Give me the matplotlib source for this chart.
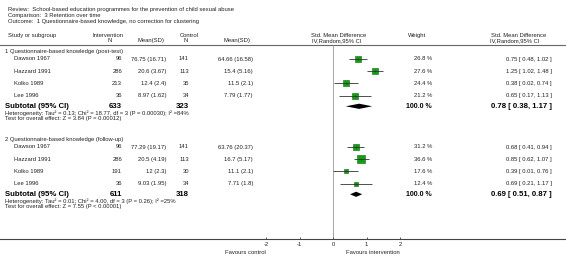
import numpy as np
import matplotlib
matplotlib.use("Agg")
import matplotlib.pyplot as plt

plt.rcParams['font.family'] = ['Liberation Sans', 'DejaVu Sans']

# ---- data
review = "Review:  School-based education programmes for the prevention of child sexual abuse"
comparison = "Comparison:  3 Retention over time"
outcome = "Outcome:  1 Questionnaire-based knowledge, no correction for clustering"

groups = ["1 Questionnaire-based knowledge (post-test)",
          "2 Questionnaire-based knowledge (follow-up)"]
studies = ["Dawson 1967", "Hazzard 1991", "Kolko 1989", "Lee 1996"]

int_n = [[96, 286, 213, 36], [96, 286, 191, 36]]
int_mean = [["76.75 (16.71)", "20.6 (3.67)", "12.4 (2.4)", "8.97 (1.62)"],
            ["77.29 (19.17)", "20.5 (4.19)", "12 (2.3)", "9.03 (1.95)"]]
ctl_n = [[141, 113, 35, 34], [141, 113, 30, 34]]
ctl_mean = [["64.66 (16.58)", "15.4 (5.16)", "11.5 (2.1)", "7.79 (1.77)"],
            ["63.76 (20.37)", "16.7 (5.17)", "11.1 (2.1)", "7.71 (1.8)"]]
weights = [[26.8, 27.6, 24.4, 21.2], [31.2, 36.6, 17.6, 12.4]]
smd = [[0.75, 1.25, 0.38, 0.65], [0.68, 0.85, 0.39, 0.69]]
lo = [[0.48, 1.02, 0.02, 0.17], [0.41, 0.62, 0.01, 0.21]]
hi = [[1.02, 1.48, 0.74, 1.13], [0.94, 1.07, 0.76, 1.17]]

sub_int_n = [633, 611]
sub_ctl_n = [323, 318]
sub_smd = [0.78, 0.69]
sub_lo = [0.38, 0.51]
sub_hi = [1.17, 0.87]
heterogeneity = ["Heterogeneity: Tau\u00b2 = 0.13; Chi\u00b2 = 18.77, df = 3 (P = 0.00030); I\u00b2 =84%",
                 "Heterogeneity: Tau\u00b2 = 0.01; Chi\u00b2 = 4.00, df = 3 (P = 0.26); I\u00b2 =25%"]
overall = ["Test for overall effect: Z = 3.84 (P = 0.00012)",
           "Test for overall effect: Z = 7.55 (P < 0.00001)"]

xticks = [-2, -1, 0, 1, 2]

# ---- layout (pixel rows / columns)
W, H = 566, 269
x_zero, px_unit = 333, 33.5
group_top = [52, 140]
row_step = 12.2
y_axis = 239

fig = plt.figure(figsize=(W / 100, H / 100), dpi=100)
tab = fig.add_axes([0, 0, 1, 1])
tab.set_xlim(0, W)
tab.set_ylim(H, 0)
tab.axis('off')

ax = fig.add_axes([0, 0, 1, 1])
ax.set_xlim(-x_zero / px_unit, (W - x_zero) / px_unit)
ax.set_ylim(H, 0)
ax.axis('off')
ax.patch.set_alpha(0)

fs = 4.2
tc = '#222222'

def t(x, y, s, ha='left', size=fs, weight='normal', color=tc):
    tab.text(x, y, s, ha=ha, va='center', fontsize=size, fontweight=weight, color=color)

t(8, 10, review)
t(8, 16, comparison)
t(8, 22, outcome)

# header
t(8, 35.5, "Study or subgroup")
t(108, 35.5, "Intervention", ha='center')
t(110, 40.5, "N", ha='center')
t(151, 40.5, "Mean(SD)", ha='center')
t(189, 35.5, "Control", ha='center')
t(186, 40.5, "N", ha='center')
t(237, 40.5, "Mean(SD)", ha='center')
t(339, 35.5, "Std. Mean Difference", ha='center')
t(337, 40.5, "IV,Random,95% CI", ha='center')
t(417, 35.5, "Weight", ha='center')
t(519, 35.5, "Std. Mean Difference", ha='center')
t(515, 40.5, "IV,Random,95% CI", ha='center')
tab.axhline(44.5, color='#666666', lw=0.8)

for g in range(2):
    y0 = group_top[g]
    t(5, y0, groups[g])
    for i, name in enumerate(studies):
        y = y0 + 7 + i * row_step
        w = weights[g][i]
        t(14, y, name)
        t(122, y, str(int_n[g][i]), ha='right')
        t(166, y, int_mean[g][i], ha='right')
        t(189, y, str(ctl_n[g][i]), ha='right')
        t(253, y, ctl_mean[g][i], ha='right')
        t(432, y, f"{w:.1f} %", ha='right')
        t(552, y, f"{smd[g][i]:.2f} [ {lo[g][i]:.2f}, {hi[g][i]:.2f} ]", ha='right')
        ax.hlines(y, lo[g][i], hi[g][i], color='#333333', lw=0.6, zorder=4)
        # square side grows with the study weight
        ax.plot(smd[g][i], y, marker='s', ms=0.72 * (0.9 + 0.194 * w),
                mfc='#12a012', mec='#0a6a0a', mew=0.4, zorder=3)
        ax.plot(smd[g][i], y, marker='|', ms=2.0, mec='#333333', mew=0.5, zorder=5)
    ys = y0 + 7 + 4 * row_step - 1.5
    t(5, ys, "Subtotal (95% CI)", size=5.6, weight='bold', color='black')
    t(122, ys, str(sub_int_n[g]), ha='right', size=5.6, weight='bold', color='black')
    t(189, ys, str(sub_ctl_n[g]), ha='right', size=5.6, weight='bold', color='black')
    t(432, ys, "100.0 %", ha='right', size=5.0, weight='bold', color='black')
    t(552, ys, f"{sub_smd[g]:.2f} [ {sub_lo[g]:.2f}, {sub_hi[g]:.2f} ]", ha='right',
      size=5.6, weight='bold', color='black')
    ax.fill([sub_lo[g], sub_smd[g], sub_hi[g], sub_smd[g]],
            [ys, ys - 2.6, ys, ys + 2.6], color='black', lw=0, zorder=4)
    t(5, ys + 6.5, heterogeneity[g])
    t(5, ys + 12.5, overall[g])

# axis
ax.vlines(0, 44.5, y_axis, color='#999999', lw=0.6, zorder=1)
ax.axhline(y_axis, color='#444444', lw=0.8)
ax.vlines(xticks, y_axis - 2, y_axis, color='#444444', lw=0.6)
for v in xticks:
    ax.text(v, y_axis + 6, f"{v:g}", ha='center', va='center', fontsize=fs, color=tc)
ax.text(-2, y_axis + 13, "Favours control", ha='right', va='center', fontsize=fs, color=tc)
ax.text(2, y_axis + 13, "Favours intervention", ha='right', va='center', fontsize=fs, color=tc)

fig.savefig("out.png", dpi=100)
